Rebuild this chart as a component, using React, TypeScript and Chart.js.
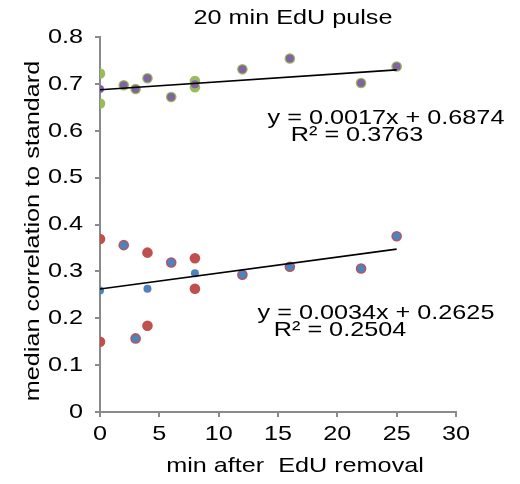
import React, { useEffect, useRef } from 'react';
import { Chart, registerables } from 'chart.js';

Chart.register(...registerables);

// ---- text ----
const TITLE = '20 min EdU pulse';
const X_TITLE = 'min after  EdU removal';
const Y_TITLE = 'median correlation to standard';

// ---- upper group (green replicates, purple mean) ----
const upperRepX = [0, 0, 2, 3, 4, 6, 8, 8, 12, 16, 22, 25];
const upperRepY = [0.722, 0.658, 0.697, 0.689, 0.712, 0.672, 0.706, 0.693, 0.731, 0.754, 0.702, 0.737];
const upperMeanX = [0, 2, 3, 4, 6, 8, 12, 16, 22, 25];
const upperMeanY = [0.689, 0.697, 0.689, 0.712, 0.672, 0.699, 0.731, 0.754, 0.702, 0.737];

// ---- lower group (red replicates, blue mean) ----
const lowerRepX = [0, 0, 2, 3, 4, 4, 6, 8, 8, 12, 16, 22, 25];
const lowerRepY = [0.369, 0.15, 0.356, 0.157, 0.34, 0.184, 0.319, 0.328, 0.263, 0.293, 0.31, 0.306, 0.375];
const lowerMeanX = [0, 2, 3, 4, 6, 8, 12, 16, 22, 25];
const lowerMeanY = [0.259, 0.356, 0.157, 0.263, 0.319, 0.296, 0.293, 0.31, 0.306, 0.375];

// ---- linear trend lines ----
const upperFit = [0.0017, 0.6874, 0.3763]; // slope, intercept, R²
const lowerFit = [0.0034, 0.2625, 0.2504];
const fitXRange = [0, 25];

// ---- axes ----
const xAxisRange = [0, 30, 5];
const yAxisRange = [0, 0.8, 0.1];

const FONT = '"Liberation Sans", Arial, Helvetica, sans-serif';
const STRETCH = 1.2;
const AXIS_GRAY = '#8a8a8a';

const pts = (xs: number[], ys: number[]) => xs.map((x, i) => ({ x, y: ys[i] }));
const fitLine = (f: number[]) => fitXRange.map((x) => ({ x, y: f[0] * x + f[1] }));
const eqText = (f: number[]) => `y = ${f[0].toFixed(4)}x + ${f[1].toFixed(4)}`;
const r2Text = (f: number[]) => `R² = ${f[2].toFixed(4)}`;

function patchContext(ctx: any) {
  if (ctx.__stretched) return;
  const orig = ctx.fillText.bind(ctx);
  ctx.fillText = (text: string, x: number, y: number, maxWidth?: number) => {
    ctx.save();
    ctx.translate(x, y);
    ctx.scale(STRETCH, 1);
    if (maxWidth === undefined) orig(text, 0, 0);
    else orig(text, 0, 0, maxWidth / STRETCH);
    ctx.restore();
  };
  ctx.__stretched = true;
}

const textPlugin = {
  id: 'textPlugin',
  afterDraw(chart: any) {
    const ctx = chart.ctx;
    ctx.save();
    ctx.fillStyle = '#000';
    ctx.textAlign = 'center';
    ctx.textBaseline = 'middle';
    ctx.font = `21px ${FONT}`;
    // title
    ctx.fillText(TITLE, 293, 18);
    // x-axis title
    ctx.fillText(X_TITLE, 295, 466);
    // equations
    ctx.fillText(eqText(upperFit), 386, 118);
    ctx.fillText(r2Text(upperFit), 357, 135);
    ctx.fillText(eqText(lowerFit), 376, 313);
    ctx.fillText(r2Text(lowerFit), 340, 330);
    // y-axis title
    ctx.save();
    ctx.translate(33, 231);
    ctx.rotate(-Math.PI / 2);
    ctx.fillText(Y_TITLE, 0, 0);
    ctx.restore();
    ctx.restore();
  },
};

export default function App() {
  const ref = useRef<HTMLCanvasElement | null>(null);

  useEffect(() => {
    document.body.style.margin = '0';
    const canvas = ref.current!;
    const ctx = canvas.getContext('2d')!;
    patchContext(ctx);

    Chart.defaults.font.family = FONT;
    Chart.defaults.font.size = 21;
    Chart.defaults.color = '#000';

    const chart = new Chart(ctx, {
      type: 'scatter',
      data: {
        datasets: [
          {
            type: 'line',
            data: fitLine(upperFit),
            borderColor: '#000',
            borderWidth: 1.6,
            pointRadius: 0,
            order: 0,
          } as any,
          {
            type: 'line',
            data: fitLine(lowerFit),
            borderColor: '#000',
            borderWidth: 1.6,
            pointRadius: 0,
            order: 0,
          } as any,
          {
            data: pts(upperMeanX, upperMeanY),
            backgroundColor: '#8064A2',
            borderWidth: 0,
            pointRadius: 4,
            order: 1,
          },
          {
            data: pts(lowerMeanX, lowerMeanY),
            backgroundColor: '#4F81BD',
            borderWidth: 0,
            pointRadius: 4,
            order: 1,
          },
          {
            data: pts(upperRepX, upperRepY),
            backgroundColor: '#9BBB59',
            borderWidth: 0,
            pointRadius: 5.3,
            order: 2,
          },
          {
            data: pts(lowerRepX, lowerRepY),
            backgroundColor: '#C0504D',
            borderWidth: 0,
            pointRadius: 5.3,
            order: 2,
          },
        ],
      },
      options: {
        responsive: false,
        animation: false,
        devicePixelRatio: 1,
        layout: { padding: { top: 37, right: 64, left: 0, bottom: 0 } },
        plugins: {
          legend: { display: false },
          tooltip: { enabled: false },
          title: { display: false },
        },
        scales: {
          x: {
            type: 'linear',
            min: xAxisRange[0],
            max: xAxisRange[1],
            ticks: { stepSize: xAxisRange[2], padding: 5, color: '#000', font: { size: 21 } },
            grid: { drawOnChartArea: false, drawTicks: true, tickLength: 5, color: AXIS_GRAY, lineWidth: 2 },
            border: { display: true, color: AXIS_GRAY, width: 2 },
            afterFit: (s: any) => { s.height = 72; },
          },
          y: {
            type: 'linear',
            min: yAxisRange[0],
            max: yAxisRange[1],
            ticks: { stepSize: yAxisRange[2], padding: 12, color: '#000', font: { size: 21 } },
            grid: { drawOnChartArea: false, drawTicks: true, tickLength: 5, color: AXIS_GRAY, lineWidth: 2 },
            border: { display: true, color: AXIS_GRAY, width: 2 },
            afterFit: (s: any) => { s.width = 100; },
          },
        },
      },
      plugins: [textPlugin],
    });

    return () => chart.destroy();
  }, []);

  return (
    <canvas
      ref={ref}
      width={520}
      height={484}
      style={{ width: '520px', height: '484px', display: 'block' }}
    />
  );
}
